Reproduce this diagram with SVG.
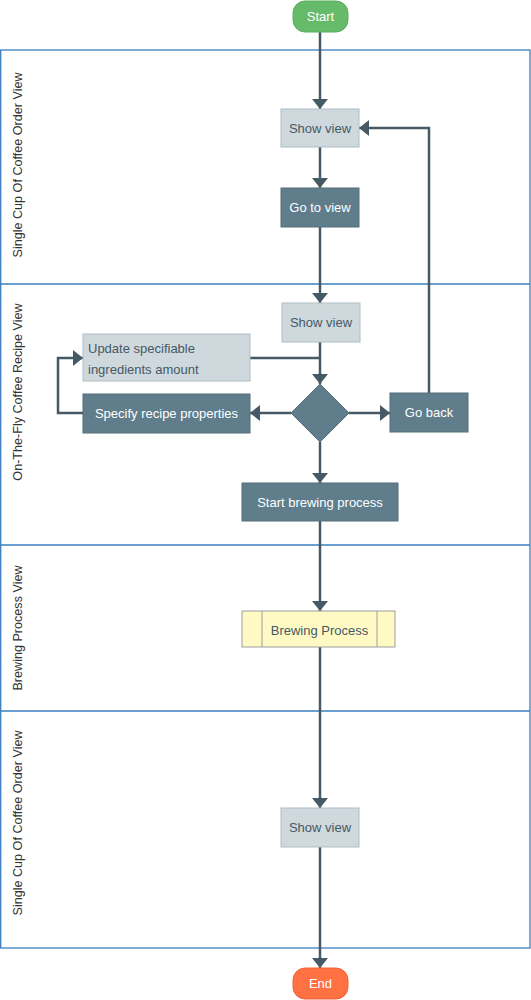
<svg xmlns="http://www.w3.org/2000/svg" width="531" height="1000" viewBox="0 0 531 1000">
<style>
.lane{fill:none;stroke:#3a7dc0;stroke-width:1.3}
.lanelbl{font-family:"Liberation Sans",Arial,sans-serif;font-size:12.6px;fill:#333;text-anchor:middle;dominant-baseline:central}
.light{fill:#cfd8dc;stroke:#b0bec5;stroke-width:1}
.dark{fill:#607d8b;stroke:#546e7a;stroke-width:1}
.t{font-family:"Liberation Sans",Arial,sans-serif;font-size:13px;text-anchor:middle;dominant-baseline:central}
.tl{fill:#455a64}
.tw{fill:#ffffff}
.conn{fill:none;stroke:#455a64;stroke-width:2.5}
</style>
<defs>
<marker id="arr" viewBox="0 0 10 16" refX="10" refY="8" markerWidth="10" markerHeight="16" markerUnits="userSpaceOnUse" orient="auto">
<path d="M0,0 L10,8 L0,16 z" fill="#455a64"/>
</marker>
</defs>
<g id="lanes">
<rect class="lane" x="0.7" y="50" width="529.3" height="898"/>
<line class="lane" x1="0.7" y1="284" x2="530" y2="284"/>
<line class="lane" x1="0.7" y1="545" x2="530" y2="545"/>
<line class="lane" x1="0.7" y1="711" x2="530" y2="711"/>
<text class="lanelbl" transform="translate(18,165) rotate(-90)">Single Cup Of Coffee Order View</text>
<text class="lanelbl" transform="translate(18,392) rotate(-90)">On-The-Fly Coffee Recipe View</text>
<text class="lanelbl" transform="translate(18,628) rotate(-90)">Brewing Process View</text>
<text class="lanelbl" transform="translate(18,823) rotate(-90)">Single Cup Of Coffee Order View</text>
</g>
<g id="connectors">
<path class="conn" d="M320,32 V109" marker-end="url(#arr)"/>
<path class="conn" d="M320,147 V188" marker-end="url(#arr)"/>
<path class="conn" d="M320,227 V303" marker-end="url(#arr)"/>
<path class="conn" d="M320,342 V384" marker-end="url(#arr)"/>
<path class="conn" d="M250,358 H320"/>
<path class="conn" d="M291,413 H250" marker-end="url(#arr)"/>
<path class="conn" d="M349,413 H390" marker-end="url(#arr)"/>
<path class="conn" d="M429,393 V128 H359" marker-end="url(#arr)"/>
<path class="conn" d="M83,413 H58 V358 H83" marker-end="url(#arr)"/>
<path class="conn" d="M320,442 V483" marker-end="url(#arr)"/>
<path class="conn" d="M320,521 V611" marker-end="url(#arr)"/>
<path class="conn" d="M320,647 V808" marker-end="url(#arr)"/>
<path class="conn" d="M320,847 V968" marker-end="url(#arr)"/>
</g>
<g id="start">
<rect x="293" y="1" width="55" height="31" rx="12" fill="#66bb6a" stroke="#5cae60"/>
<text class="t tw" x="320.5" y="16.5">Start</text>
</g>
<g id="show-view-1">
<rect class="light" x="281" y="109" width="78" height="38"/>
<text class="t tl" x="320" y="128">Show view</text>
</g>
<g id="go-to-view">
<rect class="dark" x="281" y="188" width="78" height="39"/>
<text class="t tw" x="320" y="207.5">Go to view</text>
</g>
<g id="show-view-2">
<rect class="light" x="282" y="303" width="78" height="39"/>
<text class="t tl" x="321" y="322.5">Show view</text>
</g>
<g id="update-ingredients">
<rect class="light" x="83" y="334" width="167" height="47"/>
<text class="t tl" x="88" y="348" style="text-anchor:start">Update specifiable</text>
<text class="t tl" x="88" y="369" style="text-anchor:start">ingredients amount</text>
</g>
<g id="decision">
<path d="M320,384 L349,413 L320,442 L291,413 z" fill="#607d8b" stroke="#546e7a"/>
</g>
<g id="specify-recipe">
<rect class="dark" x="83" y="394" width="167" height="39"/>
<text class="t tw" x="166.5" y="413.5">Specify recipe properties</text>
</g>
<g id="go-back">
<rect class="dark" x="390" y="393" width="78" height="39"/>
<text class="t tw" x="429" y="412.5">Go back</text>
</g>
<g id="start-brewing">
<rect class="dark" x="242" y="483" width="156" height="38"/>
<text class="t tw" x="320" y="502">Start brewing process</text>
</g>
<g id="brewing-process">
<rect x="242" y="611" width="153" height="36" fill="#fff9c4" stroke="#9e9e9e"/>
<line x1="262" y1="611" x2="262" y2="647" stroke="#9e9e9e"/>
<line x1="377" y1="611" x2="377" y2="647" stroke="#9e9e9e"/>
<text class="t tl" x="319.5" y="630">Brewing Process</text>
</g>
<g id="show-view-3">
<rect class="light" x="281" y="808" width="78" height="39"/>
<text class="t tl" x="320" y="827.5">Show view</text>
</g>
<g id="end">
<rect x="293" y="968" width="55" height="31" rx="12" fill="#ff7043" stroke="#f4623a"/>
<text class="t tw" x="320.5" y="983.5">End</text>
</g>
</svg>
